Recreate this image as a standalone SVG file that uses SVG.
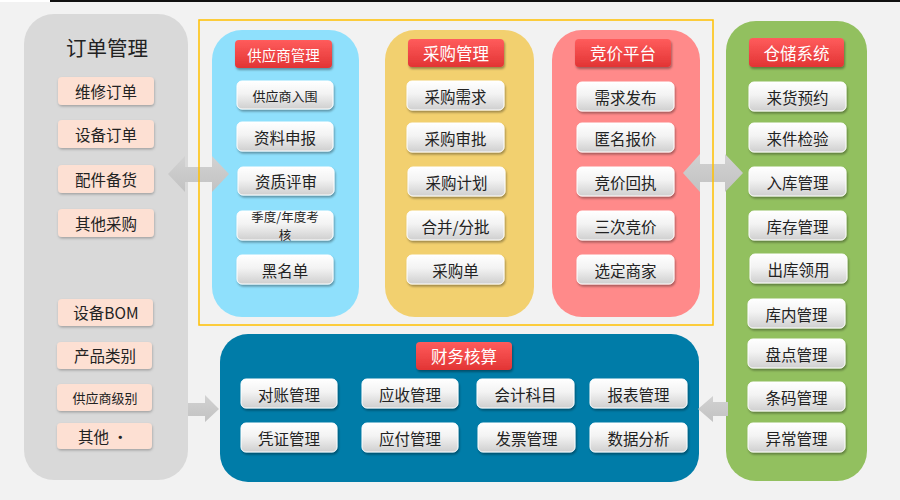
<svg xmlns="http://www.w3.org/2000/svg" width="900" height="500" viewBox="0 0 900 500">
<defs>
<linearGradient id="gItem" x1="0" y1="0" x2="0" y2="1">
<stop offset="0" stop-color="#ffffff"/>
<stop offset="0.45" stop-color="#f3f3f3"/>
<stop offset="1" stop-color="#cfcfcf"/>
</linearGradient>
<linearGradient id="gHead" x1="0" y1="0" x2="0" y2="1">
<stop offset="0" stop-color="#ff5c5c"/>
<stop offset="1" stop-color="#e23434"/>
</linearGradient>
<linearGradient id="gArrow" x1="0" y1="0" x2="0" y2="1">
<stop offset="0" stop-color="#d2d2d2"/>
<stop offset="1" stop-color="#c2c2c2"/>
</linearGradient>
<filter id="sh" x="-20%" y="-30%" width="140%" height="170%">
<feDropShadow dx="1" dy="2" stdDeviation="1.2" flood-color="#000" flood-opacity="0.35"/>
</filter>
<filter id="shs" x="-20%" y="-30%" width="140%" height="170%">
<feDropShadow dx="0.5" dy="1.5" stdDeviation="1" flood-color="#000" flood-opacity="0.25"/>
</filter>
</defs>
<style>
text{font-family:"Noto Sans CJK SC","Noto Sans",sans-serif;text-anchor:middle;dominant-baseline:central;}
.item{fill:url(#gItem);stroke:#ffffff;stroke-width:1;filter:url(#sh);}
.it{font-size:15.5px;fill:#222;}
.its{font-size:13px;fill:#222;}
.head{fill:url(#gHead);filter:url(#sh);}
.ht{font-size:16.5px;fill:#fff;}
.ord{fill:#fde0d3;filter:url(#shs);}
.arrow{fill:url(#gArrow);}
</style>
<rect x="0" y="0" width="900" height="500" fill="#f2f2f2"/>
<rect x="0" y="0" width="50" height="2" fill="#ffffff"/>
<rect x="50" y="0" width="850" height="2" fill="#111111"/>

<g id="order">
<rect x="24" y="14" width="164" height="466" rx="30" fill="#d9d9d9"/>
<text x="107" y="47" style="font-size:20.5px;fill:#222;">订单管理</text>
<g id="o1"><rect class="ord" x="58" y="77" width="96" height="28" rx="4"/><text class="it" x="106" y="91">维修订单</text></g>
<g id="o2"><rect class="ord" x="58" y="120" width="96" height="28" rx="4"/><text class="it" x="106" y="134">设备订单</text></g>
<g id="o3"><rect class="ord" x="58" y="165" width="96" height="28" rx="4"/><text class="it" x="106" y="179">配件备货</text></g>
<g id="o4"><rect class="ord" x="58" y="209" width="96" height="28" rx="4"/><text class="it" x="106" y="223">其他采购</text></g>
<g id="o5"><rect class="ord" x="58" y="299" width="95" height="27" rx="4"/><text class="it" x="106" y="312">设备BOM</text></g>
<g id="o6"><rect class="ord" x="57" y="342" width="95" height="27" rx="4"/><text class="it" x="105" y="355">产品类别</text></g>
<g id="o7"><rect class="ord" x="57" y="384" width="95" height="27" rx="4"/><text class="its" x="105" y="397">供应商级别</text></g>
<g id="o8"><rect class="ord" x="57" y="423" width="95" height="26" rx="4"/><text class="it" x="103" y="436">其他 ·</text></g>
</g>

<g id="supplier">
<rect x="212" y="30" width="147" height="287" rx="30" fill="#8fe0fc"/>
<rect class="head" x="235" y="40" width="97" height="28" rx="4"/><text class="ht" x="283.5" y="54" style="font-size:14.5px">供应商管理</text>
<g id="s1"><rect class="item" x="237" y="81" width="96" height="28" rx="5"/><text class="its" x="285" y="95">供应商入围</text></g>
<g id="s2"><rect class="item" x="237" y="122" width="96" height="29" rx="5"/><text class="it" x="285" y="136.5">资料申报</text></g>
<g id="s3"><rect class="item" x="238" y="167" width="96" height="28" rx="5"/><text class="it" x="286" y="181">资质评审</text></g>
<g id="s4"><rect class="item" x="237" y="211" width="96" height="29" rx="5"/><text class="its" x="285" y="216" style="font-size:12.5px">季度/年度考</text><text class="its" x="285" y="234" style="font-size:12.5px">核</text></g>
<g id="s5"><rect class="item" x="237" y="255" width="96" height="29" rx="5"/><text class="it" x="285" y="269.5">黑名单</text></g>
</g>

<g id="purchase">
<rect x="385" y="30" width="149" height="287" rx="30" fill="#f2d06f"/>
<rect class="head" x="408" y="39" width="96" height="28" rx="4"/><text class="ht" x="456" y="53">采购管理</text>
<g id="p1"><rect class="item" x="407" y="81" width="97" height="29" rx="5"/><text class="it" x="455.5" y="95.5">采购需求</text></g>
<g id="p2"><rect class="item" x="407" y="123" width="97" height="29" rx="5"/><text class="it" x="455.5" y="137.5">采购审批</text></g>
<g id="p3"><rect class="item" x="408" y="167" width="97" height="29" rx="5"/><text class="it" x="456.5" y="181.5">采购计划</text></g>
<g id="p4"><rect class="item" x="407" y="211" width="97" height="29" rx="5"/><text class="it" x="455.5" y="225.5">合并/分批</text></g>
<g id="p5"><rect class="item" x="407" y="255" width="97" height="29" rx="5"/><text class="it" x="455.5" y="269.5">采购单</text></g>
</g>

<g id="bidding">
<rect x="552" y="30" width="148" height="287" rx="30" fill="#ff8a8a"/>
<rect class="head" x="575" y="39" width="96" height="28" rx="4"/><text class="ht" x="623" y="53">竞价平台</text>
<g id="b1"><rect class="item" x="577" y="82" width="97" height="29" rx="5"/><text class="it" x="625.5" y="96.5">需求发布</text></g>
<g id="b2"><rect class="item" x="577" y="123" width="97" height="29" rx="5"/><text class="it" x="625.5" y="137.5">匿名报价</text></g>
<g id="b3"><rect class="item" x="577" y="167" width="97" height="29" rx="5"/><text class="it" x="625.5" y="181.5">竞价回执</text></g>
<g id="b4"><rect class="item" x="577" y="211" width="97" height="29" rx="5"/><text class="it" x="625.5" y="225.5">三次竞价</text></g>
<g id="b5"><rect class="item" x="577" y="255" width="97" height="29" rx="5"/><text class="it" x="625.5" y="269.5">选定商家</text></g>
</g>

<g id="warehouse">
<rect x="726" y="21" width="141" height="460" rx="30" fill="#92c05f"/>
<rect class="head" x="749" y="38" width="95" height="29" rx="4"/><text class="ht" x="796.5" y="52.5">仓储系统</text>
<g id="w1"><rect class="item" x="749" y="82" width="97" height="29" rx="5"/><text class="it" x="797.5" y="96.5">来货预约</text></g>
<g id="w2"><rect class="item" x="749" y="123" width="97" height="29" rx="5"/><text class="it" x="797.5" y="137.5">来件检验</text></g>
<g id="w3"><rect class="item" x="749" y="167" width="97" height="29" rx="5"/><text class="it" x="797.5" y="181.5">入库管理</text></g>
<g id="w4"><rect class="item" x="749" y="211" width="97" height="29" rx="5"/><text class="it" x="797.5" y="225.5">库存管理</text></g>
<g id="w5"><rect class="item" x="750" y="254" width="97" height="29" rx="5"/><text class="it" x="798.5" y="268.5">出库领用</text></g>
<g id="w6"><rect class="item" x="748" y="299" width="97" height="29" rx="5"/><text class="it" x="796.5" y="313.5">库内管理</text></g>
<g id="w7"><rect class="item" x="748" y="339" width="97" height="29" rx="5"/><text class="it" x="796.5" y="353.5">盘点管理</text></g>
<g id="w8"><rect class="item" x="748" y="382" width="97" height="29" rx="5"/><text class="it" x="796.5" y="396.5">条码管理</text></g>
<g id="w9"><rect class="item" x="748" y="423" width="97" height="29" rx="5"/><text class="it" x="796.5" y="437.5">异常管理</text></g>
</g>

<g id="finance">
<rect x="220" y="334" width="479" height="148" rx="28" fill="#007ca8"/>
<rect class="head" x="416" y="342" width="96" height="28" rx="4"/><text class="ht" x="464" y="356">财务核算</text>
<g id="f1"><rect class="item" x="241" y="379" width="96" height="29" rx="5"/><text class="it" x="289" y="393.5">对账管理</text></g>
<g id="f2"><rect class="item" x="362" y="379" width="96" height="29" rx="5"/><text class="it" x="410" y="393.5">应收管理</text></g>
<g id="f3"><rect class="item" x="477" y="379" width="97" height="29" rx="5"/><text class="it" x="525.5" y="393.5">会计科目</text></g>
<g id="f4"><rect class="item" x="590" y="379" width="97" height="29" rx="5"/><text class="it" x="638.5" y="393.5">报表管理</text></g>
<g id="f5"><rect class="item" x="241" y="423" width="96" height="29" rx="5"/><text class="it" x="289" y="437.5">凭证管理</text></g>
<g id="f6"><rect class="item" x="362" y="423" width="96" height="29" rx="5"/><text class="it" x="410" y="437.5">应付管理</text></g>
<g id="f7"><rect class="item" x="478" y="423" width="97" height="29" rx="5"/><text class="it" x="526.5" y="437.5">发票管理</text></g>
<g id="f8"><rect class="item" x="590" y="423" width="97" height="29" rx="5"/><text class="it" x="638.5" y="437.5">数据分析</text></g>
</g>

<g id="connectors">
<polygon class="arrow" points="168,174 185,156 185,167 212,167 212,156 229,174 212,192 212,182 185,182 185,192"/>
<polygon class="arrow" points="683,173 700,154 700,164 725,164 725,154 743,173 725,192 725,182 700,182 700,192"/>
<polygon class="arrow" points="188,403 205,403 205,395 219,409 205,422 205,416 188,416"/>
<polygon class="arrow" points="728,402 713,402 713,396 698,409 713,422 713,416 728,416"/>
</g>

<rect id="frame" x="199" y="20" width="514" height="305" fill="none" stroke="#ffc000" stroke-width="1.5"/>
</svg>
